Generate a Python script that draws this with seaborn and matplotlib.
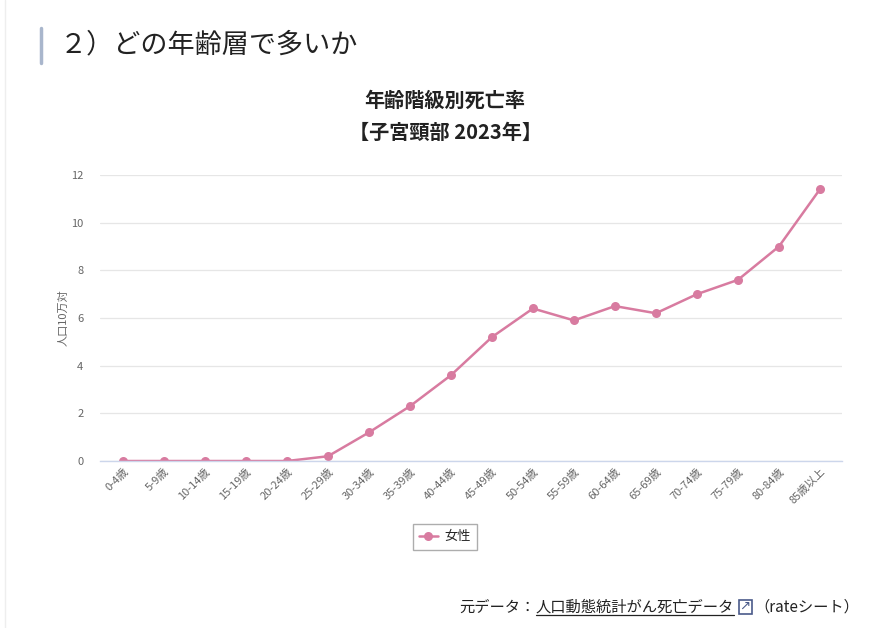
import numpy as np
import pandas as pd
import seaborn as sns
import matplotlib.pyplot as plt
from matplotlib.lines import Line2D

# Data
age_groups = ["0-4歳", "5-9歳", "10-14歳", "15-19歳", "20-24歳", "25-29歳",
              "30-34歳", "35-39歳", "40-44歳", "45-49歳", "50-54歳", "55-59歳",
              "60-64歳", "65-69歳", "70-74歳", "75-79歳", "80-84歳", "85歳以上"]
female_rate = [0, 0, 0, 0, 0, 0.2, 1.2, 2.3, 3.6, 5.2, 6.4, 5.9,
               6.5, 6.2, 7.0, 7.6, 9.0, 11.4]
y_ticks = [0, 2, 4, 6, 8, 10, 12]

LINE_COLOR = "#d87ba0"

sns.set_theme(style="white")
plt.rcParams['font.family'] = ['Noto Sans CJK JP', 'DejaVu Sans']

df = pd.DataFrame({"age": age_groups, "rate": female_rate})
df["pos"] = np.arange(len(df))

fig = plt.figure(figsize=(8.83, 6.28), dpi=100)
ax = fig.add_axes([0.1133, 0.2659, 0.8403, 0.4554])

sns.lineplot(data=df, x="pos", y="rate", ax=ax, color=LINE_COLOR,
             linewidth=1.8, marker="o", markersize=6.5, markeredgewidth=0)

ax.set_xlim(-0.56, len(df) - 1 + 0.54)
ax.set_ylim(0, 12)
ax.set_yticks(y_ticks)
ax.set_yticklabels([str(t) for t in y_ticks], fontsize=8, color="#666666")
ax.set_xticks(df["pos"])
ax.set_xticklabels(age_groups, rotation=45, ha="right", rotation_mode="anchor",
                   fontsize=8, color="#666666")
ax.tick_params(axis="y", length=0, pad=12)
ax.tick_params(axis="x", length=0, pad=4)
ax.grid(axis="y", color="#e6e6e6", linewidth=0.9)
ax.set_axisbelow(True)
for side in ["top", "right", "left"]:
    ax.spines[side].set_visible(False)
ax.spines["bottom"].set_color("#ccd6eb")
ax.spines["bottom"].set_linewidth(1)
ax.set_xlabel("")
ax.set_ylabel("人口10万対", fontsize=8, color="#666666", labelpad=2)
if ax.get_legend():
    ax.get_legend().remove()

# Titles
fig.text(0.504, 0.840, "年齢階級別死亡率", ha="center", va="center",
         fontsize=14.5, fontweight="bold", color="#222222")
fig.text(0.504, 0.789, "【子宮頸部 2023年】", ha="center", va="center",
         fontsize=14.5, fontweight="bold", color="#222222")

# Page heading
fig.text(0.068, 0.928, "２）どの年齢層で多いか", ha="left", va="center",
         fontsize=19.5, color="#222222")
fig.add_artist(Line2D([0.046, 0.046], [0.900, 0.955], color="#a9b6cc",
                      linewidth=2.5, transform=fig.transFigure))
fig.add_artist(Line2D([0.006, 0.006], [0.0, 1.0], color="#eeeeee",
                      linewidth=1, transform=fig.transFigure))

# Legend
handle = Line2D([], [], color=LINE_COLOR, marker="o", markersize=6.5,
                markeredgewidth=0, linewidth=1.8)
fig.legend([handle], ["女性"], loc="center", bbox_to_anchor=(0.504, 0.145),
           frameon=True, fontsize=9.5, handlelength=1.4, handletextpad=0.5,
           borderpad=0.5, fancybox=False, edgecolor="#999999")

# Footer
fig.canvas.draw()
renderer = fig.canvas.get_renderer()
fy = 0.033
t3 = fig.text(0.973, fy, "（rateシート）", ha="right", va="center",
              fontsize=11, color="#222222")
bb3 = t3.get_window_extent(renderer).transformed(fig.transFigure.inverted())
icon_x = bb3.x0 - 0.016
fig.text(icon_x - 0.001, fy + 0.002, "↗", ha="left", va="center", fontsize=9.5,
         color="#4a5a8a", family=['DejaVu Sans'])
fig.add_artist(plt.Rectangle((icon_x - 0.001, fy - 0.011), 0.014, 0.022,
                             fill=False, edgecolor="#4a5a8a", linewidth=1.2,
                             transform=fig.transFigure))
t2 = fig.text(icon_x - 0.007, fy, "人口動態統計がん死亡データ", ha="right",
              va="center", fontsize=11, color="#222222")
bb2 = t2.get_window_extent(renderer).transformed(fig.transFigure.inverted())
fig.add_artist(Line2D([bb2.x0, bb2.x1], [bb2.y0 + 0.002, bb2.y0 + 0.002],
                      color="#222222", linewidth=0.9, transform=fig.transFigure))
fig.text(bb2.x0, fy, "元データ：", ha="right", va="center",
         fontsize=11, color="#222222")

fig.savefig("out.png", dpi=100)
